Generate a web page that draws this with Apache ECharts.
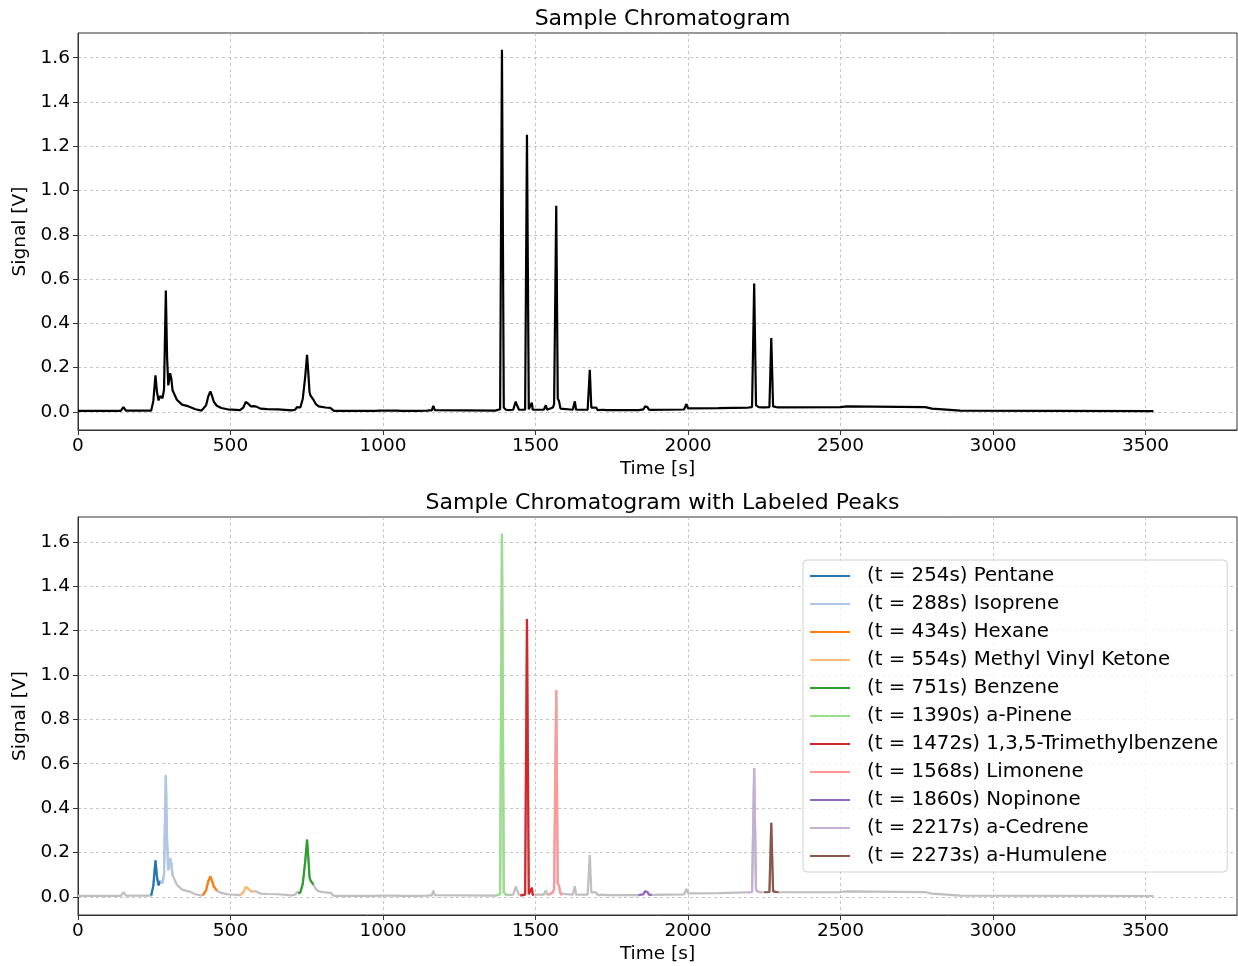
<!DOCTYPE html>
<html>
<head>
<meta charset="utf-8">
<script src="https://cdn.jsdelivr.net/npm/echarts@6/dist/echarts.min.js"></script>
<style>
html,body{margin:0;padding:0;background:#fff;}
#chart{width:1238px;height:966px;}
</style>
</head>
<body>
<div id="chart"></div>
<script>
// Trace vertices (time in s, signal in V)
const timeS = [0,140,149,157,240,247,254,259,264,270,277,282,288,292,296,302,306,310,324,341,363,385,405,410,420,427,434,440,445,455,470,490,531,542,550,554,560,567,575,585,598,620,656,700,712,718,722,729,737,745,751,755,759,762,767,772,780,789,811,828,839,977,981,987,1048,1052,1057,1076,1079,1082,1108,1111,1114,1145,1149,1152,1160,1165,1170,1368,1384,1390,1396,1403,1411,1427,1435,1438,1441,1446,1450,1466,1472,1478,1482,1488,1491,1493,1527,1534,1538,1542,1557,1561,1568,1573,1577,1582,1587,1622,1629,1633,1671,1678,1683,1699,1704,1722,1726,1730,1838,1854,1859,1863,1867,1872,1881,1987,1995,2000,2100,2198,2210,2217,2223,2232,2242,2250,2267,2273,2279,2290,2297,2500,2520,2525,2778,2800,2893,3526];
const signalV = [0.005,0.005,0.022,0.006,0.006,0.05,0.165,0.09,0.052,0.072,0.062,0.1,0.548,0.25,0.12,0.175,0.15,0.098,0.055,0.033,0.025,0.012,0.006,0.006,0.03,0.07,0.093,0.07,0.047,0.028,0.018,0.012,0.008,0.02,0.045,0.05,0.035,0.025,0.026,0.024,0.015,0.013,0.012,0.007,0.01,0.022,0.015,0.02,0.06,0.16,0.258,0.18,0.09,0.075,0.07,0.055,0.035,0.025,0.02,0.018,0.005,0.005,0.014,0.006,0.006,0.01,0.005,0.005,0.01,0.005,0.005,0.011,0.006,0.006,0.013,0.007,0.007,0.028,0.008,0.006,0.012,1.636,0.02,0.01,0.008,0.01,0.047,0.035,0.044,0.01,0.006,0.01,1.252,0.012,0.01,0.042,0.01,0.006,0.01,0.03,0.01,0.008,0.02,0.036,0.931,0.06,0.05,0.015,0.008,0.01,0.048,0.01,0.01,0.19,0.02,0.02,0.008,0.01,0.015,0.008,0.008,0.012,0.025,0.016,0.022,0.01,0.009,0.011,0.036,0.016,0.017,0.02,0.022,0.58,0.03,0.022,0.021,0.021,0.022,0.334,0.025,0.022,0.021,0.022,0.025,0.022,0.022,0.015,0.006,0.004];

// Labeled peaks
const peakNames = ['Pentane','Isoprene','Hexane','Methyl Vinyl Ketone','Benzene','a-Pinene','1,3,5-Trimethylbenzene','Limonene','Nopinone','a-Cedrene','a-Humulene'];
const peakTimes = [254,288,434,554,751,1390,1472,1568,1860,2217,2273];
const peakStart = [240,270,410,531,722,1368,1450,1542,1838,2198,2250];
const peakEnd   = [270,310,455,575,772,1411,1493,1587,1881,2242,2297];
const peakColors = ['#1f77b4','#aec7e8','#ff7f0e','#ffbb78','#2ca02c','#98df8a','#d62728','#ff9896','#9467bd','#c5b0d5','#8c564b'];

// Tick values
const xTicks = [0,500,1000,1500,2000,2500,3000,3500];
const yTicks = [0.0,0.2,0.4,0.6,0.8,1.0,1.2,1.4,1.6];

const trace = timeS.map((t,i)=>[t,signalV[i]]);
const FONT = 'DejaVu Sans';
const gridLine = {show:true,lineStyle:{color:'#b8b8b8',width:0.8,type:[3,3]}};

function xAxisCfg(idx){
  return {
    gridIndex: idx, type:'value', min:0, max:3800,
    name:'Time [s]', nameLocation:'middle', nameGap:30,
    nameTextStyle:{fontFamily:FONT,fontSize:18.5,color:'#000'},
    axisLine:{show:true,onZero:false,lineStyle:{color:'#333',width:1}},
    axisTick:{show:true,length:5,lineStyle:{color:'#333'},customValues:xTicks},
    axisLabel:{fontFamily:FONT,fontSize:18.5,color:'#000',margin:7,customValues:xTicks,
      formatter:v=>String(v)},
    splitLine:gridLine
  };
}
function yAxisCfg(idx){
  return {
    gridIndex: idx, type:'value', min:-0.0815, max:1.7115,
    name:'Signal [V]', nameLocation:'middle', nameGap:48,
    nameTextStyle:{fontFamily:FONT,fontSize:18.5,color:'#000'},
    axisLine:{show:true,onZero:false,lineStyle:{color:'#333',width:1}},
    axisTick:{show:true,length:5,lineStyle:{color:'#333'},customValues:yTicks},
    axisLabel:{fontFamily:FONT,fontSize:18.5,color:'#000',margin:8,customValues:yTicks,
      formatter:v=>Number(v).toFixed(1)},
    splitLine:gridLine
  };
}

const series = [
  {type:'line',xAxisIndex:0,yAxisIndex:0,data:trace,showSymbol:false,symbol:'none',
   lineStyle:{color:'#000',width:2.2},color:'#000',silent:true},
  {type:'line',xAxisIndex:1,yAxisIndex:1,data:trace,showSymbol:false,symbol:'none',
   lineStyle:{color:'#bfbfbf',width:2.2},color:'#bfbfbf',silent:true,z:2}
];
const legendNames = [];
peakNames.forEach((n,i)=>{
  const name = '(t = '+peakTimes[i]+'s) '+n;
  legendNames.push(name);
  series.push({
    type:'line',name:name,xAxisIndex:1,yAxisIndex:1,showSymbol:false,symbol:'none',
    data:trace.filter(p=>p[0]>=peakStart[i]&&p[0]<=peakEnd[i]),
    lineStyle:{color:peakColors[i],width:2.2},color:peakColors[i],z:3
  });
});

const chart = echarts.init(document.getElementById('chart'),null,{renderer:'canvas'});
chart.setOption({
  animation:false,
  backgroundColor:'#fff',
  title:[
    {text:'Sample Chromatogram',left:657.5,top:3,textAlign:'center',
     textStyle:{fontFamily:FONT,fontSize:22,fontWeight:'normal',color:'#000'}},
    {text:'Sample Chromatogram with Labeled Peaks',left:657.5,top:487,textAlign:'center',
     textStyle:{fontFamily:FONT,fontSize:22,fontWeight:'normal',color:'#000'}}
  ],
  grid:[
    {left:78,top:33,width:1159,height:397,show:true,borderColor:'#333',borderWidth:1,backgroundColor:'transparent'},
    {left:78,top:517,width:1159,height:398,show:true,borderColor:'#333',borderWidth:1,backgroundColor:'transparent'}
  ],
  xAxis:[xAxisCfg(0),xAxisCfg(1)],
  yAxis:[yAxisCfg(0),yAxisCfg(1)],
  legend:{
    data:legendNames, orient:'vertical', left:803, top:560,
    icon:'rect', itemWidth:40, itemHeight:2, itemGap:4,
    padding:[4,9,4,7],
    backgroundColor:'rgba(255,255,255,0.8)', borderColor:'#d0d0d0', borderWidth:1, borderRadius:4,
    textStyle:{fontFamily:FONT,fontSize:19.8,color:'#000',lineHeight:24,padding:[0,0,0,12]},
    selectedMode:false
  },
  series:series
});
</script>
</body>
</html>
